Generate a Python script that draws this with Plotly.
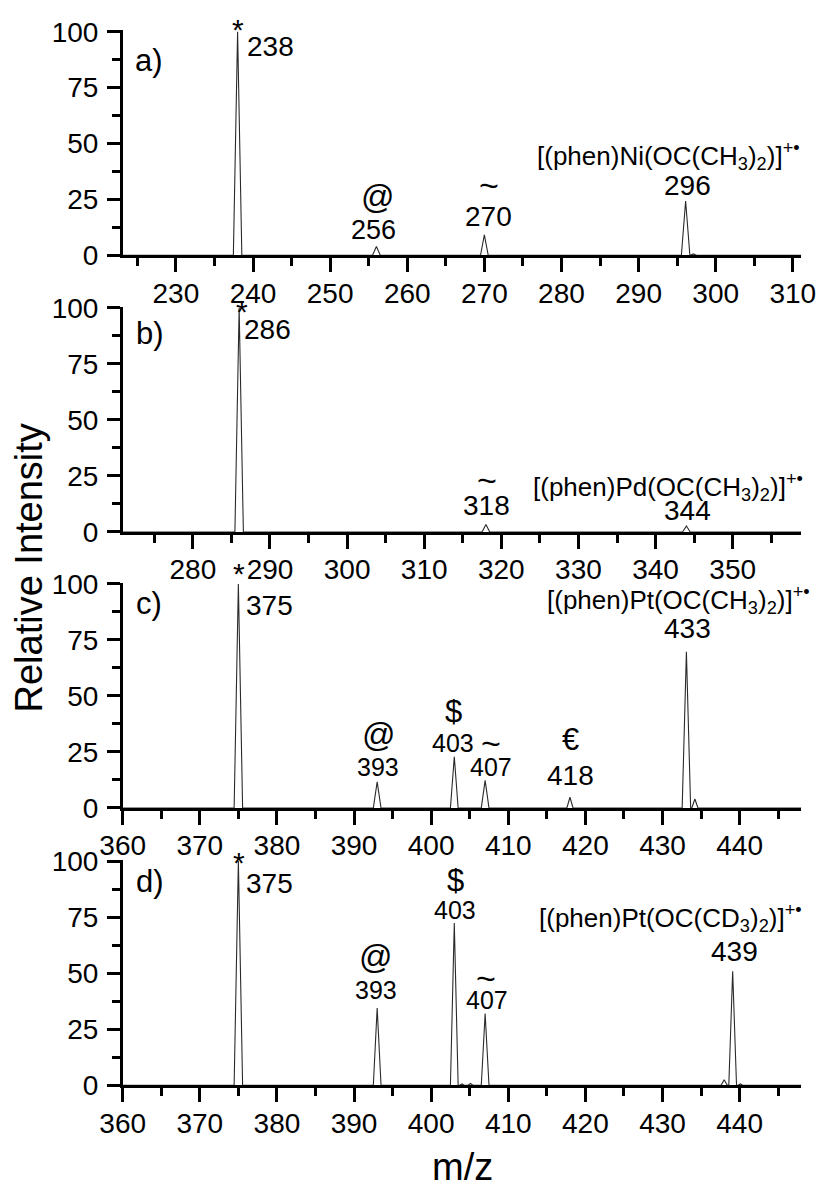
import plotly.graph_objects as go

W, H = 824, 1189
FONT = "Arial, 'Liberation Sans', sans-serif"

# ---------------- data ----------------
# panel ranges (m/z)
range_a = [223.1, 311.1]
range_b = [270.9, 358.9]
range_c = [360.0, 448.0]
range_d = [360.0, 448.0]

# peak centres (m/z), relative intensities and half base widths
peaks_a_mz = [238.0, 256.0, 270.0, 296.1, 297.1]
peaks_a_int = [100.0, 3.9, 9.1, 24.3, 0.6]
peaks_a_hw = [0.55, 0.5, 0.5, 0.55, 0.4]

peaks_b_mz = [286.0, 318.0, 344.0]
peaks_b_int = [100.0, 3.4, 2.7]
peaks_b_hw = [0.55, 0.5, 0.5]

peaks_c_mz = [375.0, 393.0, 403.0, 407.0, 418.0, 433.1, 434.2]
peaks_c_int = [100.0, 11.7, 22.9, 12.3, 4.8, 69.8, 4.0]
peaks_c_hw = [0.55, 0.5, 0.5, 0.5, 0.4, 0.55, 0.4]

peaks_d_mz = [375.0, 393.0, 403.0, 404.0, 405.1, 407.0, 438.0, 439.1, 440.1]
peaks_d_int = [100.0, 34.5, 72.3, 0.6, 0.8, 32.0, 2.5, 50.8, 0.6]
peaks_d_hw = [0.55, 0.5, 0.5, 0.3, 0.3, 0.5, 0.4, 0.5, 0.3]

# tick values
y_ticks = [0, 25, 50, 75, 100]

# annotations: (text, x, y, size, xanchor)
labels_a = [
    ("*", 238.1, 101.0, 30, "center"),
    ("238", 239.0, 93.3, 28, "left"),
    ("a)", 224.4, 87.3, 31, "left"),
    ("@", 256.2, 26.2, 33, "center"),
    ("256", 255.6, 11.3, 27, "center"),
    ("~", 270.6, 31.4, 34, "center"),
    ("270", 270.5, 17.3, 28, "center"),
    ("296", 296.3, 31.4, 28, "center"),
]
formula_a = ("[(phen)Ni(OC(CH<sub>3</sub>)<sub>2</sub>)]<sup>+•</sup>", 311.2, 44.5)

labels_b = [
    ("*", 286.4, 98.5, 30, "center"),
    ("286", 286.4, 90.2, 28, "left"),
    ("b)", 272.3, 88.7, 31, "left"),
    ("~", 318.1, 23.2, 34, "center"),
    ("318", 318.1, 12.0, 28, "center"),
    ("344", 344.1, 9.8, 28, "center"),
]
formula_b = ("[(phen)Pd(OC(CH<sub>3</sub>)<sub>2</sub>)]<sup>+•</sup>", 359.4, 20.2)

labels_c = [
    ("*", 375.1, 104.5, 30, "center"),
    ("375", 375.7, 90.6, 28, "left"),
    ("c)", 361.4, 91.5, 31, "left"),
    ("@", 393.2, 32.6, 33, "center"),
    ("393", 393.1, 18.5, 25, "center"),
    ("$", 402.9, 43.0, 31, "center"),
    ("403", 402.8, 28.9, 25, "center"),
    ("~", 407.8, 28.9, 34, "center"),
    ("407", 407.8, 18.5, 25, "center"),
    ("€", 418.1, 30.4, 31, "center"),
    ("418", 418.1, 14.7, 28, "center"),
    ("433", 433.3, 80.2, 28, "center"),
]
formula_c = ("[(phen)Pt(OC(CH<sub>3</sub>)<sub>2</sub>)]<sup>+•</sup>", 449.4, 92.9)

labels_d = [
    ("*", 375.1, 99.5, 30, "center"),
    ("375", 375.7, 90.0, 28, "left"),
    ("d)", 361.4, 90.8, 31, "left"),
    ("$", 403.2, 91.5, 31, "center"),
    ("403", 403.1, 78.2, 25, "center"),
    ("@", 392.9, 57.3, 33, "center"),
    ("393", 392.9, 42.5, 25, "center"),
    ("~", 407.1, 47.7, 34, "center"),
    ("407", 407.2, 38.0, 25, "center"),
    ("439", 439.3, 59.6, 28, "center"),
]
formula_d = ("[(phen)Pt(OC(CD<sub>3</sub>)<sub>2</sub>)]<sup>+•</sup>", 448.3, 74.4)

y_title = "Relative Intensity"
x_title = "m/z"

# ---------------- layout geometry (pixels) ----------------
x_left_px, x_right_px = 122.7, 801.3
panel_px = [(31.7, 255.3), (308.0, 532.0), (584.0, 808.0), (861.0, 1085.3)]
YMAX = 100.6


def profile(rng, mz, inten, hw):
    xs, ys = [rng[0]], [0.0]
    for c, h, w in sorted(zip(mz, inten, hw)):
        xs += [c - w, c, c + w]
        ys += [0.0, h, 0.0]
    xs.append(rng[1])
    ys.append(0.0)
    return xs, ys


panels = [
    (range_a, peaks_a_mz, peaks_a_int, peaks_a_hw, labels_a, formula_a),
    (range_b, peaks_b_mz, peaks_b_int, peaks_b_hw, labels_b, formula_b),
    (range_c, peaks_c_mz, peaks_c_int, peaks_c_hw, labels_c, formula_c),
    (range_d, peaks_d_mz, peaks_d_int, peaks_d_hw, labels_d, formula_d),
]

fig = go.Figure()
annotations = []
layout = {}
for i, (rng, mz, inten, hw, labs, form) in enumerate(panels):
    n = i + 1
    xa = "x" if n == 1 else f"x{n}"
    ya = "y" if n == 1 else f"y{n}"
    xs, ys = profile(rng, mz, inten, hw)
    fig.add_trace(go.Scatter(x=xs, y=ys, mode="lines", xaxis=xa, yaxis=ya,
                             line=dict(color="#2a2a2a", width=1.1),
                             showlegend=False, hoverinfo="skip"))
    top_px, bot_px = panel_px[i]
    px_per_y = (bot_px - top_px) / 100.0
    px_per_x = (x_right_px - x_left_px) / (rng[1] - rng[0])
    top_adj = bot_px - px_per_y * YMAX
    dom_y = [1 - bot_px / H, 1 - top_adj / H]
    dom_x = [x_left_px / W, x_right_px / W]
    axis_common = dict(showline=True, linecolor="black", linewidth=2.5,
                       ticks="outside", tickcolor="black", tickwidth=2.5,
                       showgrid=False, zeroline=False, automargin=False,
                       tickfont=dict(family=FONT, size=28, color="black"))
    layout[f"xaxis{'' if n == 1 else n}"] = dict(
        domain=dom_x, range=rng, anchor=ya, dtick=10, tick0=0, ticklen=14,
        minor=dict(dtick=5, tick0=0, ticklen=8, tickwidth=2.5, tickcolor="black", ticks="outside"),
        ticklabelstandoff=-3, **axis_common)
    layout[f"yaxis{'' if n == 1 else n}"] = dict(
        domain=dom_y, range=[0, YMAX], anchor=xa, tickvals=y_ticks, ticklen=13,
        minor=dict(dtick=12.5, tick0=0, ticklen=8, tickwidth=2.5, tickcolor="black", ticks="outside"),
        ticklabelstandoff=3, **axis_common)

    def add(text, x, y, size, xan):
        # keep the anchor inside the visible range, move the rest with pixel shifts
        xc = min(max(x, rng[0]), rng[1])
        yc = min(max(y, 0.0), YMAX)
        annotations.append(dict(text=text, x=xc, y=yc, xref=xa, yref=ya, showarrow=False,
                                xshift=(x - xc) * px_per_x, yshift=(y - yc) * px_per_y,
                                xanchor=xan, yanchor="middle",
                                font=dict(family=FONT, size=size, color="black")))

    for (t, x, y, s, xan) in labs:
        add(t, x, y, s, xan)
    ft, fx, fy = form
    add(ft, fx, fy, 26, "right")

annotations.append(dict(text=y_title, x=28.5 / W, y=1 - 568 / H, xref="paper", yref="paper",
                        textangle=-90, showarrow=False, xanchor="center", yanchor="middle",
                        font=dict(family=FONT, size=38, color="black")))
annotations.append(dict(text=x_title, x=462 / W, y=1 - 1167 / H, xref="paper", yref="paper",
                        showarrow=False, xanchor="center", yanchor="middle",
                        font=dict(family=FONT, size=38, color="black")))

fig.update_layout(width=W, height=H, margin=dict(l=0, r=0, t=0, b=0, autoexpand=False),
                  paper_bgcolor="white", plot_bgcolor="white",
                  annotations=annotations, **layout)
fig.write_html("out.html")
